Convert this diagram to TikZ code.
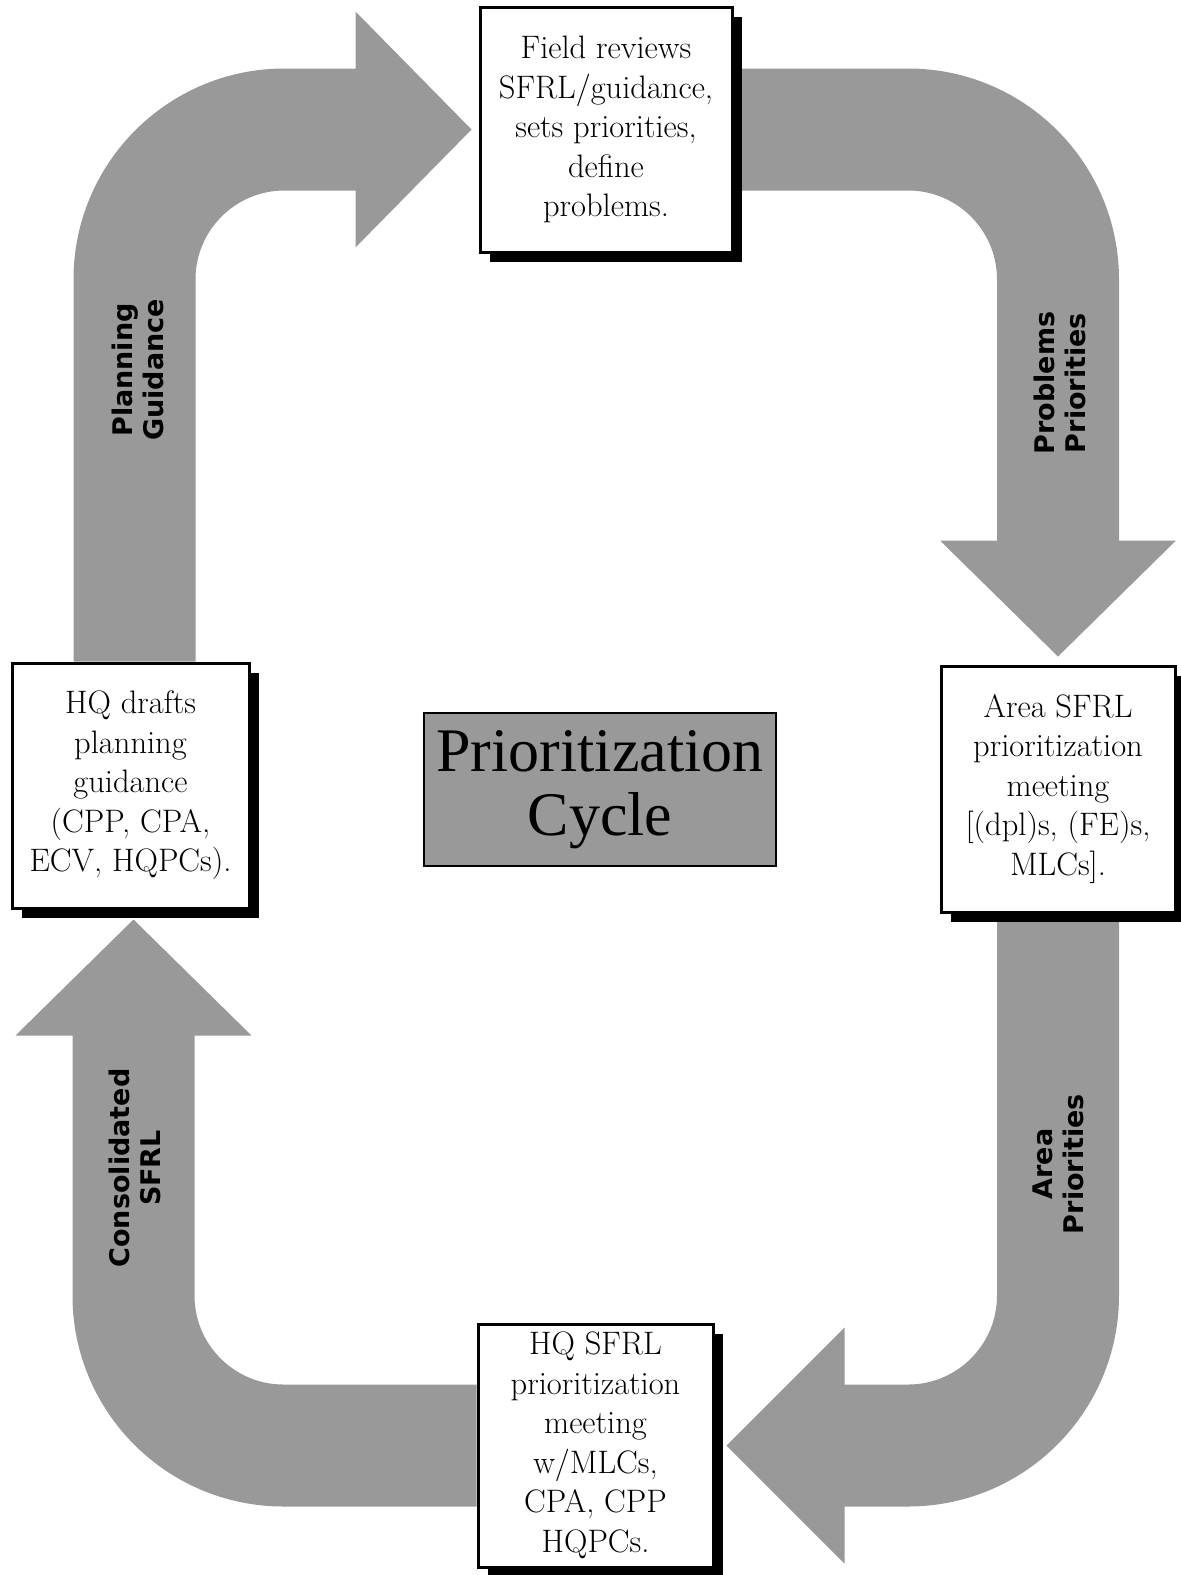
\documentclass[tikz,border=0pt]{standalone}
\usepackage{fontspec}
\newfontfamily\titlefont{Liberation Serif}
\newfontfamily\tagfont{DejaVu Sans}
\usetikzlibrary{calc,shadows}
\pgfdeclarelayer{background}
\pgfsetlayers{background,main}
\definecolor{arrowgray}{gray}{0.6}
\definecolor{titlegray}{gray}{0.6}
\tikzset{
  stepbox/.style={draw=black, line width=3pt, fill=white, inner sep=0pt, align=center,
    font=\fontsize{32.5}{39.5}\selectfont,
    drop shadow={shadow xshift=10pt, shadow yshift=-10pt, fill=black, opacity=1}},
  shaft/.style={draw=arrowgray, line width=122pt, rounded corners=150pt},
  headfill/.style={fill=arrowgray},
  flowtag/.style={rotate=90, align=center, inner sep=0pt,
    font=\tagfont\bfseries\fontsize{27}{31}\selectfont},
}
\begin{document}
\begin{tikzpicture}[x=1pt,y=-1pt]
\useasboundingbox (0,0) rectangle (1181,1575);

% the four stations of the cycle
\node[stepbox, minimum width=252pt, minimum height=245pt] (tbox) at (606,129.5)
  {Field reviews\\SFRL/guidance,\\sets priorities,\\define\\problems.};
\node[stepbox, minimum width=234pt, minimum height=246pt] (rbox) at (1058,789)
  {Area SFRL\\prioritization\\meeting\\{[}(dpl)s, (FE)s,\\MLCs{]}.};
\node[stepbox, minimum width=235pt, minimum height=243pt] (bbox) at (595.5,1445.5)
  {HQ SFRL\\prioritization\\meeting\\w/MLCs,\\CPA, CPP\\HQPCs.};
\node[stepbox, minimum width=237pt, minimum height=245pt] (lbox) at (130.5,785.5)
  {HQ drafts\\planning\\guidance\\(CPP, CPA,\\ECV, HQPCs).};

% title in the middle
\node[draw=black, line width=1.5pt, fill=titlegray, minimum width=352pt,
  minimum height=153pt, inner sep=0pt, align=center,
  font=\titlefont\fontsize{62}{64}\selectfont] (title) at (600,789.5)
  {Prioritization\\Cycle};

% broad curved arrows behind the boxes
\begin{pgfonlayer}{background}
  \fill[white] (0,0) rectangle (1181,1575);

  \coordinate (t1) at ([xshift=-7pt]tbox.west);
  \coordinate (b1) at ([xshift=-116pt]t1);
  \draw[shaft] ([xshift=4pt]lbox.north) |- ([xshift=12pt]b1);
  \fill[headfill] ([yshift=118pt]b1) -- (t1) -- ([yshift=-118pt]b1) -- cycle;

  \coordinate (t2) at ([yshift=8pt]rbox.north);
  \coordinate (b2) at ([yshift=116pt]t2);
  \draw[shaft] (tbox.east) -| ([yshift=-12pt]b2);
  \fill[headfill] ([xshift=-118pt]b2) -- (t2) -- ([xshift=118pt]b2) -- cycle;

  \coordinate (t3) at ([xshift=12pt]bbox.east);
  \coordinate (b3) at ([xshift=118pt]t3);
  \draw[shaft] (rbox.south) |- ([xshift=-12pt]b3);
  \fill[headfill] ([yshift=118pt]b3) -- (t3) -- ([yshift=-118pt]b3) -- cycle;

  \coordinate (t4) at ([xshift=3pt,yshift=-10pt]lbox.south);
  \coordinate (b4) at ([yshift=-116pt]t4);
  \draw[shaft] (bbox.west) -| ([yshift=12pt]b4);
  \fill[headfill] ([xshift=-118pt]b4) -- (t4) -- ([xshift=118pt]b4) -- cycle;
\end{pgfonlayer}

% labels on the arrows
\node[flowtag] (tag1) at (138,370) {Planning\\Guidance};
\node[flowtag] (tag2) at (1060,383) {Problems\\Priorities};
\node[flowtag] (tag3) at (1058,1164) {Area\\Priorities};
\node[flowtag] (tag4) at (135,1168) {Consolidated\\SFRL};
\end{tikzpicture}
\end{document}
